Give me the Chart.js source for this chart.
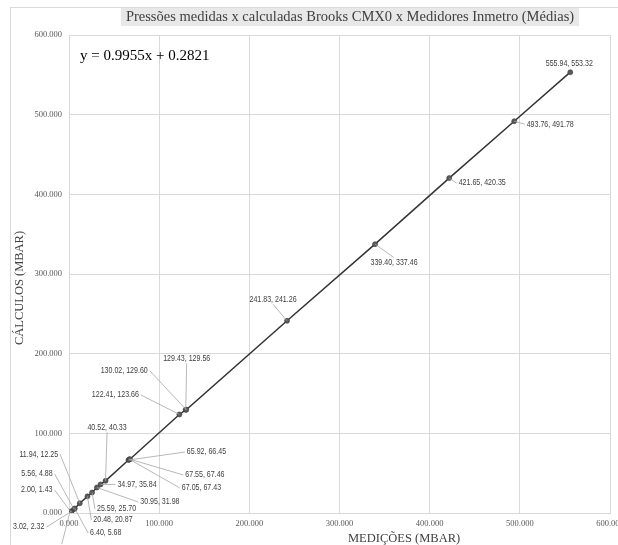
<!DOCTYPE html>
<html>
<head>
<meta charset="utf-8">
<script src="https://cdn.jsdelivr.net/npm/chart.js@4.4.1/dist/chart.umd.min.js"></script>
<style>
  html, body { margin: 0; padding: 0; background: #ffffff; }
  #wrap { width: 618px; height: 545px; }
</style>
</head>
<body>
<div id="wrap"><canvas id="c" width="618" height="545"></canvas></div>
<script>
// Average pressures: measured (Inmetro gauges) vs calculated (Brooks CMX0), mbar
const medicoes = [0.88, 2.00, 3.02, 5.56, 6.40, 11.94, 20.48, 25.59, 30.95, 34.97, 40.52,
                  65.92, 67.05, 67.55, 122.41, 129.43, 130.02, 241.83, 339.40, 421.65, 493.76, 555.94];
const calculos = [0.48, 1.43, 2.32, 4.88, 5.68, 12.25, 20.87, 25.70, 31.98, 35.84, 40.33,
                  66.45, 67.43, 67.46, 123.66, 129.56, 129.60, 241.26, 337.46, 420.35, 491.78, 553.32];

const axisTicks = [0, 100, 200, 300, 400, 500, 600];
const tickLabels = ['0.000', '100.000', '200.000', '300.000', '400.000', '500.000', '600.000'];

const trendSlope = 0.9955;
const trendIntercept = 0.2821;

const chartTitle = 'Pressões medidas x calculadas Brooks CMX0 x Medidores Inmetro (Médias)';
const xTitle = 'MEDIÇÕES (MBAR)';
const yTitle = 'CÁLCULOS (MBAR)';

// Data-label placement: pixel offset of each label centre from its point,
// and the label side the leader line attaches to ('' = no leader line)
const labelPlacement = [
  [-8, 36, 'T'], [-34, -22, 'R'], [-43, 16, 'R'], [-37, -35, 'R'], [31, 24.5, 'L'],
  [-41, -49, 'R'], [25.5, 23.5, 'L'], [24.5, 16.5, 'L'], [63, 14.5, 'L'], [36.5, 0, 'L'],
  [1.5, -53, 'B'], [78, -8, 'L'], [72, 28.7, 'L'], [75, 15.7, 'L'], [-64, -19.5, 'R'],
  [1, -51, 'B'], [-62, -39, 'R'], [-14, -21, 'B'], [19, 18, 'T'], [33, 5, 'L'],
  [36, 3, 'L'], [-1, -9, '']
];

const points = medicoes.map((x, i) => ({ x: x, y: calculos[i] }));

const fmt = v => v.toFixed(2);
const tickText = v => {
  const k = axisTicks.indexOf(v);
  return k >= 0 ? tickLabels[k] : '';
};

// Frame, title, equation, axis titles and the leader-lined data labels
const decorations = {
  id: 'decorations',
  afterDraw(chart) {
    const ctx = chart.ctx;
    const area = chart.chartArea;
    ctx.save();

    // outer chart frame
    ctx.strokeStyle = '#d9d9d9';
    ctx.lineWidth = 1;
    ctx.strokeRect(10.5, 7.5, 700, 600);

    // title with its shaded box
    ctx.font = '14.5px "Liberation Serif"';
    const tw = ctx.measureText(chartTitle).width;
    const tcx = 350;
    ctx.fillStyle = '#e8e8e8';
    ctx.fillRect(tcx - tw / 2 - 5, 8, tw + 10, 18);
    ctx.fillStyle = '#404040';
    ctx.textAlign = 'center';
    ctx.textBaseline = 'middle';
    ctx.fillText(chartTitle, tcx, 17);

    // trendline equation
    ctx.font = '15px "Liberation Serif"';
    ctx.fillStyle = '#000000';
    ctx.textAlign = 'left';
    ctx.fillText('y = ' + trendSlope.toFixed(4) + 'x + ' + trendIntercept.toFixed(4), 80, 56);

    // axis titles
    ctx.font = '12.5px "Liberation Serif"';
    ctx.fillStyle = '#404040';
    ctx.textAlign = 'left';
    ctx.fillText(xTitle, 348, 539);
    ctx.save();
    ctx.translate(20, 288);
    ctx.rotate(-Math.PI / 2);
    ctx.textAlign = 'center';
    ctx.fillText(yTitle, 0, 0);
    ctx.restore();

    // data labels
    const meta = chart.getDatasetMeta(0);
    const sx = 0.83;
    ctx.font = '8.5px "Liberation Sans"';
    points.forEach((p, i) => {
      const el = meta.data[i];
      const [dx, dy, side] = labelPlacement[i];
      const text = fmt(p.x) + ', ' + fmt(p.y);
      const w = ctx.measureText(text).width * sx;
      const h = 9;
      const cx = el.x + dx, cy = el.y + dy;
      let ax = cx, ay = cy;
      if (side === 'L') ax = cx - w / 2 - 2;
      if (side === 'R') ax = cx + w / 2 + 2;
      if (side === 'T') ay = cy - h / 2;
      if (side === 'B') ay = cy + h / 2;
      if (side) {
        ctx.strokeStyle = '#a6a6a6';
        ctx.lineWidth = 0.8;
        ctx.beginPath();
        ctx.moveTo(el.x, el.y);
        ctx.lineTo(ax, ay);
        ctx.stroke();
      }
      ctx.save();
      ctx.translate(cx, cy);
      ctx.scale(sx, 1);
      ctx.fillStyle = '#404040';
      ctx.textAlign = 'center';
      ctx.textBaseline = 'middle';
      ctx.fillText(text, 0, 0);
      ctx.restore();
    });

    ctx.restore();
  }
};

const tickFont = { family: 'Liberation Serif', size: 8.5 };

new Chart(document.getElementById('c'), {
  type: 'scatter',
  data: {
    datasets: [{
      data: points,
      showLine: true,
      borderColor: '#333333',
      borderWidth: 1.5,
      pointRadius: 2.5,
      pointBackgroundColor: '#5a5a5a',
      pointBorderColor: '#3a3a3a',
      pointBorderWidth: 0.6
    }]
  },
  options: {
    responsive: false,
    devicePixelRatio: 1,
    animation: false,
    layout: { padding: { top: 35, right: 8, left: 0, bottom: 0 } },
    plugins: { legend: { display: false }, tooltip: { enabled: false }, title: { display: false } },
    scales: {
      x: {
        type: 'linear',
        position: 'bottom',
        min: 0, max: 600,
        afterBuildTicks: s => { s.ticks = axisTicks.map(v => ({ value: v })); },
        afterFit: s => { s.height = 32; s.paddingLeft = 0; s.paddingRight = 0; },
        ticks: { padding: 6, font: tickFont, color: '#595959', maxRotation: 0, autoSkip: false, callback: tickText },
        grid: { color: '#d9d9d9', lineWidth: 1, drawTicks: false },
        border: { color: '#d9d9d9' }
      },
      y: {
        type: 'linear',
        min: 0, max: 600,
        afterBuildTicks: s => { s.ticks = axisTicks.map(v => ({ value: v })); },
        afterFit: s => { s.width = 69; s.paddingTop = 0; s.paddingBottom = 0; },
        ticks: { padding: 7, font: tickFont, color: '#595959', autoSkip: false, callback: tickText },
        grid: { color: '#d9d9d9', lineWidth: 1, drawTicks: false },
        border: { color: '#d9d9d9' }
      }
    }
  },
  plugins: [decorations]
});
</script>
</body>
</html>
